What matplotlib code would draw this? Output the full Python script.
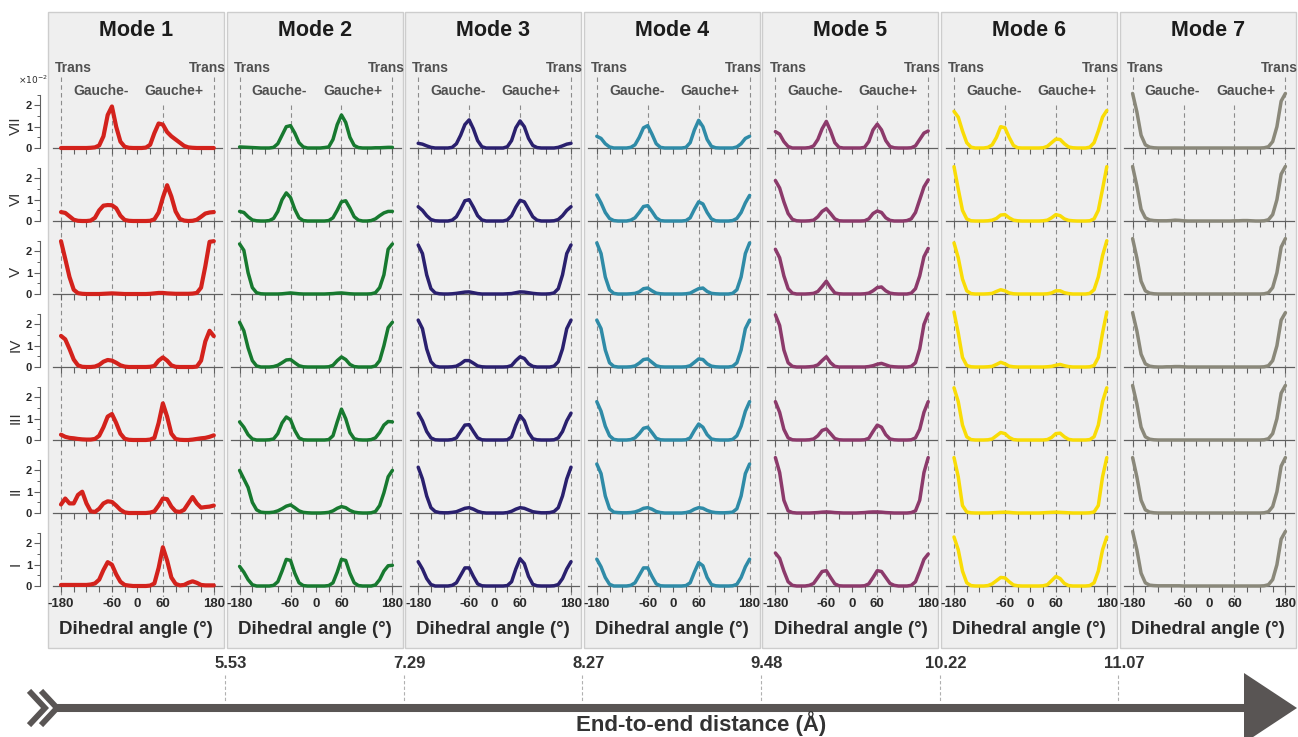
import matplotlib
matplotlib.use("Agg")
import matplotlib.pyplot as plt
from matplotlib.patches import Rectangle, Polygon
from matplotlib.lines import Line2D

plt.rcParams['font.family'] = ['Liberation Sans', 'DejaVu Sans']

# ---------------- data ----------------
ANGLES = list(range(-180, 181, 10))
MODES = ["Mode 1", "Mode 2", "Mode 3", "Mode 4", "Mode 5", "Mode 6", "Mode 7"]
ROWS = ["VII", "VI", "V", "IV", "III", "II", "I"]
DISTANCES = ["5.53", "7.29", "8.27", "9.48", "10.22", "11.07"]
COLORS = ["#d3221c", "#17792f", "#2a206e", "#2f8ba7", "#8c3a6b", "#f9dc06", "#8a887a"]
XTICK_LABELLED = [-180, -60, 0, 60, 180]

# Mode 1
m1_VII = [0, 0, 0, 0, 0, 0, 0, 0.01, 0.03,
          0.12, 0.55, 1.55, 1.95, 1.0, 0.3, 0.06, 0.01, 0,
          0, 0, 0.02, 0.15, 0.7, 1.15, 1.1, 0.75, 0.55,
          0.4, 0.25, 0.1, 0.03, 0.01, 0, 0, 0, 0, 0]
m1_VI = [0.42, 0.38, 0.22, 0.06, 0.01, 0, 0, 0.02, 0.15,
         0.5, 0.72, 0.75, 0.74, 0.6, 0.25, 0.05, 0.01, 0,
         0, 0, 0, 0.01, 0.08, 0.4, 1.1, 1.68, 1.15,
         0.45, 0.1, 0.02, 0, 0.01, 0.06, 0.2, 0.35, 0.4, 0.42]
m1_V = [2.48, 1.65, 0.8, 0.2, 0.04, 0.01, 0, 0, 0,
        0, 0.01, 0.02, 0.03, 0.02, 0.01, 0, 0, 0,
        0, 0, 0, 0.01, 0.03, 0.05, 0.05, 0.03, 0.02,
        0.01, 0.01, 0.01, 0.01, 0.02, 0.05, 0.3, 1.3, 2.45, 2.48]
m1_IV = [1.46, 1.3, 0.85, 0.35, 0.08, 0.01, 0, 0, 0.02,
         0.1, 0.25, 0.33, 0.3, 0.2, 0.08, 0.02, 0, 0,
         0, 0, 0, 0.01, 0.05, 0.3, 0.45, 0.3, 0.08,
         0.01, 0, 0, 0, 0, 0.02, 0.3, 1.2, 1.7, 1.45]
m1_III = [0.25, 0.15, 0.1, 0.08, 0.05, 0.03, 0.02, 0.02, 0.05,
          0.2, 0.6, 1.1, 1.22, 0.8, 0.3, 0.06, 0.01, 0,
          0, 0, 0, 0.02, 0.1, 0.8, 1.72, 1.1, 0.3,
          0.05, 0.01, 0, 0, 0.02, 0.05, 0.08, 0.1, 0.15, 0.22]
m1_II = [0.4, 0.68, 0.45, 0.45, 0.85, 1.0, 0.45, 0.08, 0.05,
         0.2, 0.45, 0.55, 0.52, 0.35, 0.15, 0.03, 0, 0,
         0, 0, 0, 0.02, 0.08, 0.35, 0.68, 0.65, 0.3,
         0.08, 0.05, 0.15, 0.45, 0.75, 0.45, 0.25, 0.28, 0.3, 0.35]
m1_I = [0.05, 0.05, 0.05, 0.05, 0.05, 0.05, 0.05, 0.07, 0.12,
        0.3, 0.75, 1.12, 1.0, 0.55, 0.2, 0.05, 0.02, 0,
        0, 0, 0, 0.02, 0.12, 0.85, 1.82, 1.2, 0.4,
        0.1, 0.03, 0.05, 0.15, 0.22, 0.15, 0.05, 0.03, 0.03, 0.03]

# Mode 2
m2_VII = [0.05, 0.04, 0.03, 0.02, 0.01, 0, 0, 0, 0.03,
          0.2, 0.6, 1.0, 1.05, 0.7, 0.25, 0.05, 0, 0,
          0, 0, 0.02, 0.05, 0.4, 1.1, 1.55, 1.2, 0.5,
          0.12, 0.02, 0, 0, 0, 0.01, 0.01, 0.02, 0.03, 0.03]
m2_VI = [0.45, 0.4, 0.2, 0.05, 0.01, 0, 0, 0.02, 0.12,
         0.45, 1.0, 1.32, 1.1, 0.55, 0.15, 0.02, 0, 0,
         0, 0, 0, 0.02, 0.15, 0.5, 0.9, 0.95, 0.6,
         0.2, 0.04, 0, 0, 0.02, 0.1, 0.25, 0.38, 0.45, 0.45]
m2_V = [2.35, 2.05, 1.0, 0.3, 0.06, 0.01, 0, 0, 0,
        0, 0.01, 0.03, 0.05, 0.03, 0.01, 0, 0, 0,
        0, 0, 0, 0.01, 0.02, 0.04, 0.05, 0.03, 0.01,
        0, 0, 0, 0, 0.01, 0.06, 0.3, 0.9, 2.1, 2.35]
m2_IV = [2.1, 1.7, 0.9, 0.3, 0.05, 0, 0, 0, 0.02,
         0.08, 0.2, 0.33, 0.35, 0.2, 0.06, 0.01, 0, 0,
         0, 0, 0, 0.01, 0.08, 0.3, 0.47, 0.35, 0.12,
         0.02, 0, 0, 0, 0, 0.05, 0.3, 1.0, 1.85, 2.1]
m2_III = [0.85, 0.6, 0.25, 0.05, 0, 0, 0, 0.01, 0.05,
          0.3, 0.8, 1.08, 0.95, 0.45, 0.1, 0.01, 0, 0,
          0, 0, 0, 0.02, 0.2, 0.85, 1.45, 1.0, 0.35,
          0.06, 0.01, 0, 0, 0.02, 0.1, 0.35, 0.7, 0.87, 0.85]
m2_II = [2.0, 1.6, 1.2, 0.5, 0.15, 0.04, 0.02, 0.02, 0.04,
         0.1, 0.2, 0.32, 0.38, 0.25, 0.1, 0.03, 0.01, 0,
         0, 0, 0.01, 0.03, 0.1, 0.22, 0.3, 0.25, 0.12,
         0.04, 0.01, 0, 0, 0.01, 0.07, 0.35, 0.95, 1.7, 2.0]
m2_I = [0.92, 0.65, 0.3, 0.06, 0, 0, 0, 0, 0.03,
        0.2, 0.7, 1.25, 1.2, 0.6, 0.15, 0.02, 0, 0,
        0, 0, 0, 0.02, 0.15, 0.65, 1.25, 1.2, 0.6,
        0.15, 0.02, 0, 0, 0, 0.05, 0.3, 0.7, 0.95, 0.97]

# Mode 3
m3_VII = [0.22, 0.18, 0.1, 0.03, 0, 0, 0, 0, 0.03,
          0.2, 0.6, 1.1, 1.32, 0.9, 0.35, 0.06, 0, 0,
          0, 0, 0, 0.06, 0.35, 0.95, 1.27, 1.0, 0.45,
          0.12, 0.02, 0, 0, 0, 0, 0.03, 0.1, 0.18, 0.22]
m3_VI = [0.67, 0.5, 0.25, 0.07, 0.01, 0, 0, 0, 0.04,
         0.2, 0.55, 0.95, 1.0, 0.65, 0.25, 0.05, 0, 0,
         0, 0, 0, 0.05, 0.25, 0.65, 0.97, 0.9, 0.55,
         0.2, 0.04, 0, 0, 0, 0.01, 0.07, 0.25, 0.5, 0.67]
m3_V = [2.3, 1.9, 0.9, 0.25, 0.05, 0.01, 0, 0, 0.01,
        0.03, 0.06, 0.09, 0.1, 0.06, 0.02, 0, 0, 0,
        0, 0, 0, 0.01, 0.02, 0.06, 0.1, 0.09, 0.06,
        0.03, 0.01, 0, 0, 0.01, 0.05, 0.25, 0.9, 1.9, 2.3]
m3_IV = [2.2, 1.8, 0.85, 0.25, 0.04, 0, 0, 0, 0.01,
         0.04, 0.15, 0.3, 0.3, 0.18, 0.05, 0.01, 0, 0,
         0, 0, 0, 0.01, 0.07, 0.3, 0.48, 0.4, 0.15,
         0.03, 0, 0, 0, 0, 0.04, 0.25, 0.85, 1.8, 2.2]
m3_III = [1.26, 0.9, 0.4, 0.1, 0.01, 0, 0, 0, 0.02,
          0.1, 0.4, 0.7, 0.72, 0.4, 0.1, 0.01, 0, 0,
          0, 0, 0, 0.01, 0.15, 0.7, 1.15, 0.9, 0.35,
          0.06, 0.01, 0, 0, 0, 0.01, 0.1, 0.4, 0.9, 1.26]
m3_II = [2.15, 1.6, 0.8, 0.25, 0.07, 0.02, 0.01, 0.01, 0.03,
         0.06, 0.14, 0.22, 0.25, 0.18, 0.08, 0.02, 0, 0,
         0, 0, 0, 0.02, 0.08, 0.18, 0.25, 0.22, 0.14,
         0.06, 0.03, 0.01, 0.01, 0.02, 0.07, 0.25, 0.8, 1.6, 2.15]
m3_I = [1.14, 0.8, 0.35, 0.07, 0, 0, 0, 0, 0.03,
        0.15, 0.5, 0.85, 0.85, 0.45, 0.1, 0.01, 0, 0,
        0, 0, 0, 0.02, 0.2, 0.8, 1.28, 1.05, 0.45,
        0.08, 0.01, 0, 0, 0, 0.01, 0.07, 0.35, 0.8, 1.14]

# Mode 4
m4_VII = [0.55, 0.45, 0.2, 0.05, 0, 0, 0, 0, 0.03,
          0.15, 0.5, 0.95, 1.05, 0.65, 0.2, 0.03, 0, 0,
          0, 0, 0, 0.03, 0.25, 0.85, 1.3, 1.0, 0.4,
          0.08, 0.01, 0, 0, 0, 0, 0.05, 0.2, 0.45, 0.55]
m4_VI = [1.22, 0.85, 0.4, 0.12, 0.02, 0, 0, 0, 0.04,
         0.15, 0.4, 0.68, 0.72, 0.45, 0.15, 0.02, 0, 0,
         0, 0, 0, 0.02, 0.15, 0.55, 0.9, 0.8, 0.4,
         0.1, 0.01, 0, 0, 0, 0.02, 0.12, 0.4, 0.85, 1.2]
m4_V = [2.4, 1.9, 0.8, 0.2, 0.03, 0, 0, 0, 0.01,
        0.03, 0.1, 0.25, 0.28, 0.15, 0.04, 0.01, 0, 0,
        0, 0, 0, 0.01, 0.04, 0.15, 0.25, 0.28, 0.12,
        0.03, 0.01, 0, 0, 0, 0.03, 0.2, 0.8, 1.9, 2.4]
m4_IV = [2.2, 1.8, 0.8, 0.2, 0.03, 0, 0, 0, 0.01,
         0.05, 0.18, 0.35, 0.38, 0.22, 0.06, 0.01, 0, 0,
         0, 0, 0, 0.01, 0.06, 0.22, 0.38, 0.35, 0.15,
         0.04, 0.01, 0, 0, 0, 0.03, 0.2, 0.8, 1.8, 2.2]
m4_III = [1.8, 1.35, 0.65, 0.2, 0.03, 0, 0, 0, 0.02,
          0.1, 0.3, 0.55, 0.6, 0.35, 0.08, 0.01, 0, 0,
          0, 0, 0, 0.01, 0.1, 0.45, 0.75, 0.6, 0.25,
          0.05, 0.01, 0, 0, 0, 0.03, 0.2, 0.65, 1.35, 1.8]
m4_II = [2.3, 1.85, 0.8, 0.2, 0.04, 0.02, 0.01, 0.01, 0.02,
         0.05, 0.12, 0.22, 0.25, 0.18, 0.07, 0.02, 0, 0,
         0, 0, 0, 0.02, 0.07, 0.18, 0.25, 0.22, 0.12,
         0.05, 0.02, 0.01, 0.01, 0.02, 0.04, 0.2, 0.8, 1.85, 2.3]
m4_I = [1.26, 0.9, 0.4, 0.08, 0, 0, 0, 0, 0.03,
        0.15, 0.5, 0.85, 0.85, 0.45, 0.1, 0.01, 0, 0,
        0, 0, 0, 0.02, 0.15, 0.65, 1.1, 0.95, 0.4,
        0.07, 0.01, 0, 0, 0, 0.01, 0.08, 0.4, 0.9, 1.26]

# Mode 5
m5_VII = [0.77, 0.65, 0.3, 0.07, 0, 0, 0, 0, 0.02,
          0.1, 0.4, 0.9, 1.25, 0.8, 0.25, 0.03, 0, 0,
          0, 0, 0, 0.03, 0.3, 0.85, 1.12, 0.85, 0.35,
          0.07, 0.01, 0, 0, 0, 0.01, 0.1, 0.4, 0.7, 0.8]
m5_VI = [1.9, 1.55, 0.9, 0.35, 0.08, 0.01, 0, 0, 0.01,
         0.04, 0.2, 0.45, 0.58, 0.35, 0.1, 0.01, 0, 0,
         0, 0, 0, 0.01, 0.1, 0.35, 0.47, 0.4, 0.15,
         0.03, 0, 0, 0, 0.02, 0.1, 0.4, 1.0, 1.6, 1.93]
m5_V = [2.1, 1.7, 0.85, 0.25, 0.04, 0, 0, 0, 0.01,
        0.03, 0.12, 0.35, 0.6, 0.3, 0.05, 0.01, 0, 0,
        0, 0, 0, 0.01, 0.04, 0.15, 0.3, 0.33, 0.15,
        0.04, 0.01, 0, 0, 0, 0.04, 0.25, 0.85, 1.75, 2.14]
m5_IV = [2.45, 1.95, 0.8, 0.2, 0.03, 0, 0, 0, 0.01,
         0.03, 0.1, 0.3, 0.48, 0.2, 0.03, 0, 0, 0,
         0, 0, 0, 0, 0.02, 0.06, 0.13, 0.17, 0.1,
         0.03, 0.01, 0, 0, 0, 0.03, 0.2, 0.85, 2.0, 2.5]
m5_III = [1.8, 1.3, 0.5, 0.1, 0.01, 0, 0, 0, 0.01,
          0.05, 0.2, 0.45, 0.52, 0.3, 0.07, 0.01, 0, 0,
          0, 0, 0, 0.01, 0.08, 0.4, 0.7, 0.6, 0.25,
          0.05, 0.01, 0, 0, 0, 0.01, 0.1, 0.5, 1.3, 1.8]
m5_II = [2.6, 1.9, 0.6, 0.1, 0.02, 0, 0, 0, 0,
         0.01, 0.02, 0.04, 0.05, 0.04, 0.02, 0.01, 0, 0,
         0, 0, 0.01, 0.02, 0.04, 0.05, 0.05, 0.04, 0.02,
         0.01, 0, 0, 0, 0, 0.02, 0.1, 0.6, 1.9, 2.6]
m5_I = [1.55, 1.3, 0.7, 0.2, 0.03, 0, 0, 0, 0.03,
        0.12, 0.4, 0.68, 0.72, 0.4, 0.1, 0.01, 0, 0,
        0, 0, 0, 0.01, 0.1, 0.4, 0.72, 0.68, 0.4,
        0.12, 0.03, 0, 0, 0, 0.03, 0.2, 0.7, 1.25, 1.5]

# Mode 6
m6_VII = [1.72, 1.45, 0.8, 0.25, 0.04, 0, 0, 0, 0.03,
          0.15, 0.5, 1.0, 0.95, 0.5, 0.12, 0.01, 0, 0,
          0, 0, 0, 0.01, 0.08, 0.25, 0.42, 0.4, 0.2,
          0.05, 0.01, 0, 0, 0, 0.04, 0.25, 0.8, 1.45, 1.76]
m6_VI = [2.55, 1.5, 0.5, 0.1, 0.01, 0, 0, 0, 0.01,
         0.04, 0.12, 0.28, 0.3, 0.15, 0.04, 0.01, 0, 0,
         0, 0, 0, 0.01, 0.04, 0.15, 0.3, 0.25, 0.1,
         0.03, 0.01, 0, 0, 0, 0.01, 0.1, 0.5, 1.5, 2.55]
m6_V = [2.4, 1.7, 0.7, 0.15, 0.02, 0, 0, 0, 0.01,
        0.03, 0.12, 0.2, 0.15, 0.05, 0.01, 0, 0, 0,
        0, 0, 0, 0, 0.01, 0.05, 0.15, 0.15, 0.06,
        0.02, 0, 0, 0, 0, 0.03, 0.2, 0.8, 1.8, 2.5]
m6_IV = [2.58, 1.6, 0.45, 0.07, 0.01, 0, 0, 0, 0.01,
         0.03, 0.12, 0.22, 0.15, 0.04, 0.01, 0, 0, 0,
         0, 0, 0, 0, 0.01, 0.03, 0.08, 0.12, 0.06,
         0.02, 0, 0, 0, 0, 0.01, 0.07, 0.45, 1.6, 2.58]
m6_III = [2.45, 1.8, 0.7, 0.15, 0.02, 0, 0, 0, 0.01,
          0.05, 0.2, 0.35, 0.3, 0.12, 0.02, 0, 0, 0,
          0, 0, 0, 0, 0.02, 0.12, 0.3, 0.32, 0.15,
          0.03, 0, 0, 0, 0, 0.02, 0.15, 0.7, 1.8, 2.45]
m6_II = [2.6, 1.7, 0.35, 0.05, 0.01, 0, 0, 0, 0,
         0.01, 0.02, 0.03, 0.04, 0.03, 0.01, 0, 0, 0,
         0, 0, 0, 0.01, 0.02, 0.03, 0.04, 0.03, 0.02,
         0.01, 0, 0, 0, 0, 0.01, 0.05, 0.35, 1.7, 2.6]
m6_I = [2.3, 1.7, 0.7, 0.15, 0.02, 0, 0, 0, 0.02,
        0.1, 0.25, 0.4, 0.38, 0.2, 0.05, 0.01, 0, 0,
        0, 0, 0, 0.01, 0.06, 0.25, 0.45, 0.35, 0.12,
        0.02, 0, 0, 0, 0, 0.02, 0.15, 0.7, 1.7, 2.3]

# Mode 7
m7_VII = [2.56, 1.7, 0.6, 0.15, 0.04, 0.01, 0, 0, 0,
          0, 0, 0, 0, 0, 0, 0, 0, 0,
          0, 0, 0, 0, 0, 0, 0, 0, 0,
          0, 0, 0, 0, 0.01, 0.06, 0.3, 1.0, 2.2, 2.56]
m7_VI = [2.56, 1.65, 0.55, 0.15, 0.05, 0.02, 0.01, 0.01, 0.01,
         0.02, 0.04, 0.03, 0.01, 0, 0, 0, 0, 0,
         0, 0, 0, 0, 0, 0, 0.01, 0.01, 0.02,
         0.02, 0.01, 0, 0, 0.01, 0.06, 0.3, 1.0, 2.2, 2.56]
m7_V = [2.6, 1.7, 0.6, 0.15, 0.04, 0.01, 0, 0, 0,
        0, 0, 0, 0, 0, 0, 0, 0, 0,
        0, 0, 0, 0, 0, 0, 0, 0, 0,
        0, 0, 0, 0, 0.01, 0.06, 0.3, 1.0, 2.2, 2.6]
m7_IV = [2.55, 1.7, 0.6, 0.15, 0.04, 0.01, 0, 0, 0.01,
         0.01, 0.02, 0.02, 0.01, 0, 0, 0, 0, 0,
         0, 0, 0, 0, 0, 0, 0, 0, 0,
         0, 0, 0, 0, 0.01, 0.06, 0.3, 1.0, 2.2, 2.55]
m7_III = [2.56, 1.7, 0.6, 0.15, 0.04, 0.01, 0, 0, 0,
          0, 0, 0, 0, 0, 0, 0, 0, 0,
          0, 0, 0, 0, 0, 0, 0, 0, 0,
          0, 0, 0, 0, 0.01, 0.06, 0.3, 1.0, 2.2, 2.56]
m7_II = [2.6, 1.7, 0.6, 0.15, 0.04, 0.01, 0, 0, 0,
         0, 0, 0, 0, 0, 0, 0, 0, 0,
         0, 0, 0, 0, 0, 0, 0, 0, 0,
         0, 0, 0, 0, 0.01, 0.06, 0.3, 1.0, 2.2, 2.6]
m7_I = [2.56, 1.7, 0.6, 0.15, 0.04, 0.02, 0.01, 0.01, 0.01,
        0.01, 0.01, 0.01, 0, 0, 0, 0, 0, 0,
        0, 0, 0, 0, 0, 0, 0, 0, 0,
        0, 0, 0, 0, 0.01, 0.06, 0.3, 1.0, 2.2, 2.56]

MODE_DATA = [
    [m1_VII, m1_VI, m1_V, m1_IV, m1_III, m1_II, m1_I],
    [m2_VII, m2_VI, m2_V, m2_IV, m2_III, m2_II, m2_I],
    [m3_VII, m3_VI, m3_V, m3_IV, m3_III, m3_II, m3_I],
    [m4_VII, m4_VI, m4_V, m4_IV, m4_III, m4_II, m4_I],
    [m5_VII, m5_VI, m5_V, m5_IV, m5_III, m5_II, m5_I],
    [m6_VII, m6_VI, m6_V, m6_IV, m6_III, m6_II, m6_I],
    [m7_VII, m7_VI, m7_V, m7_IV, m7_III, m7_II, m7_I],
]

# ---------------- layout (pixels) ----------------
W, H = 1298, 737
fig = plt.figure(figsize=(W / 100, H / 100), dpi=100)


def fx(x):
    return x / W


def fy(y):
    return 1 - y / H


X180_0 = 61.0          # pixel of -180 deg in first column
COL_STEP = 178.6
PX_PER_DEG = 152.8 / 360
XLIM = (-212, 212)
BASE0 = 148.0          # baseline of top row
ROW_STEP = 73.0
PX_PER_UNIT = 21.3
YBOT = -0.2
PANEL_TOP, PANEL_BOT, PANEL_W = 12, 648, 176

TXT = "#2a2a2a"
GRAY_TXT = "#505050"

for i, mode in enumerate(MODES):
    x180 = X180_0 + i * COL_STEP
    L = x180 - 13
    # panel background
    fig.patches.append(Rectangle((fx(L), fy(PANEL_BOT)), PANEL_W / W,
                                 (PANEL_BOT - PANEL_TOP) / H,
                                 transform=fig.transFigure, facecolor="#efefef",
                                 edgecolor="#cdcdcd", lw=1.0, zorder=0))
    ax_left = x180 + (XLIM[0] + 180) * PX_PER_DEG
    ax_w = (XLIM[1] - XLIM[0]) * PX_PER_DEG

    # dashed guide lines overlay
    top_px, bot_px = 77, 597
    axd = fig.add_axes([fx(ax_left), fy(bot_px), ax_w / W, (bot_px - top_px) / H], zorder=1)
    axd.set_xlim(XLIM)
    axd.set_ylim(bot_px, top_px)
    axd.axis("off")
    axd.vlines([-180, 180], top_px, bot_px, colors="#8c8c8c", linestyles=(0, (4, 3)), lw=0.8)
    axd.vlines([-60, 60], 105, bot_px, colors="#8c8c8c", linestyles=(0, (4, 3)), lw=0.8)

    # titles and state labels
    cx = L + PANEL_W / 2
    fig.text(fx(cx), fy(30), mode, ha="center", va="center", fontsize=15.5,
             fontweight="bold", color="#1c1c1c")
    fig.text(fx(L + 7), fy(68), "Trans", ha="left", va="center", fontsize=10,
             fontweight="bold", color=GRAY_TXT)
    fig.text(fx(L + 178), fy(68), "Trans", ha="right", va="center", fontsize=10,
             fontweight="bold", color=GRAY_TXT)
    fig.text(fx(x180 + 94 * PX_PER_DEG), fy(91), "Gauche-", ha="center", va="center",
             fontsize=10, fontweight="bold", color=GRAY_TXT)
    fig.text(fx(x180 + 266 * PX_PER_DEG), fy(91), "Gauche+", ha="center", va="center",
             fontsize=10, fontweight="bold", color=GRAY_TXT)
    fig.text(fx(cx), fy(630), "Dihedral angle (\u00b0)", ha="center", va="center",
             fontsize=13.5, fontweight="bold", color=TXT)

    lw = 3.0 if i == 0 else 2.5
    for r, row in enumerate(ROWS):
        base = BASE0 + r * ROW_STEP
        bot = base - YBOT * PX_PER_UNIT
        ax = fig.add_axes([fx(ax_left), fy(bot), ax_w / W, ROW_STEP / H], zorder=2)
        ax.patch.set_visible(False)
        ax.set_xlim(XLIM)
        ax.set_ylim(YBOT, YBOT + ROW_STEP / PX_PER_UNIT)
        ax.plot(ANGLES, MODE_DATA[i][r], color=COLORS[i], lw=lw,
                solid_joinstyle="round", solid_capstyle="round", clip_on=False, zorder=3)
        for s in ("top", "right"):
            ax.spines[s].set_visible(False)
        ax.spines["bottom"].set_position(("data", 0))
        ax.spines["bottom"].set_bounds(-200, 200)
        ax.spines["bottom"].set_color("#606060")
        ax.spines["bottom"].set_linewidth(0.9)
        ax.set_xticks(list(range(-180, 181, 30)))
        if r == len(ROWS) - 1:
            ax.set_xticklabels([str(t) if t in XTICK_LABELLED else "" for t in range(-180, 181, 30)])
        else:
            ax.set_xticklabels([])
        ax.tick_params(axis="x", direction="out", length=4, width=0.8, color="#606060",
                       pad=4.5, labelsize=9.5, labelcolor=TXT)
        for lab in ax.get_xticklabels():
            lab.set_fontweight("bold")
        if i == 0:
            ax.spines["left"].set_position(("outward", 5))
            ax.spines["left"].set_bounds(0, 2.5)
            ax.spines["left"].set_color("#606060")
            ax.spines["left"].set_linewidth(0.8)
            ax.set_yticks([0, 1, 2])
            ax.set_yticks([0.5, 1.5, 2.5], minor=True)
            ax.set_yticklabels(["0", "1", "2"])
            ax.tick_params(axis="y", which="major", direction="out", length=4, width=0.8,
                           color="#606060", pad=2, labelsize=8, labelcolor=TXT)
            ax.tick_params(axis="y", which="minor", direction="out", length=2.5, width=0.7,
                           color="#606060")
            for lab in ax.get_yticklabels():
                lab.set_fontweight("bold")
            fig.text(fx(16), fy(base - 22), row, rotation=90, ha="center", va="center",
                     fontsize=11, color="#333333")
        else:
            ax.spines["left"].set_visible(False)
            ax.set_yticks([])

fig.text(fx(33), fy(80), r"$\times10^{-2}$", ha="center", va="center", fontsize=6.5,
         color=TXT)

# ---------------- distance axis ----------------
for k, d in enumerate(DISTANCES):
    bx = X180_0 + (k + 1) * COL_STEP - 13 - 1.5
    fig.add_artist(Line2D([fx(bx), fx(bx)], [fy(675), fy(702)], transform=fig.transFigure,
                          color="#b0b0b0", lw=0.8, linestyle=(0, (3, 2))))
    fig.text(fx(bx + 6), fy(664), d, ha="center", va="center", fontsize=12,
             fontweight="bold", color="#333333")

ARROW_C = "#595554"
fig.add_artist(Line2D([fx(55), fx(1250)], [fy(708), fy(708)], transform=fig.transFigure,
                      color=ARROW_C, lw=5.8, solid_capstyle="butt"))
fig.add_artist(Polygon([(fx(1244), fy(673)), (fx(1297), fy(708)), (fx(1244), fy(743))],
                       closed=True, transform=fig.transFigure, facecolor=ARROW_C,
                       edgecolor="none"))
for off in (0, 12):
    fig.add_artist(Line2D([fx(31 + off), fx(45 + off), fx(31 + off)],
                          [fy(693), fy(708), fy(723)], transform=fig.transFigure,
                          color=ARROW_C, lw=4.2, solid_joinstyle="miter"))
fig.text(fx(701), fy(731), "End-to-end distance (\u00c5)", ha="center", va="baseline",
         fontsize=16, fontweight="bold", color="#333333")

fig.savefig("out.png", dpi=100)
